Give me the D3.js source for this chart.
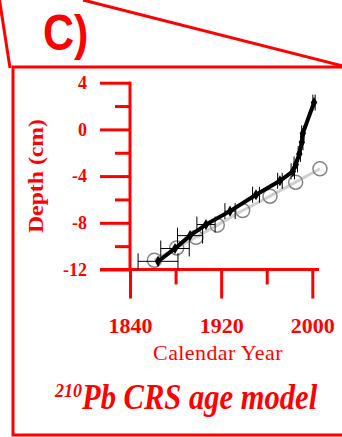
<!DOCTYPE html>
<html>
<head>
<meta charset="utf-8">
<script src="https://cdn.jsdelivr.net/npm/d3@7"></script>
<style>
  body { margin: 0; background: #fff; }
  svg { display: block; }
</style>
</head>
<body>
<div id="container"></div>
<script>
// CRS model (black) - calendar year, depth, year error
var crs_year = [2001.5, 1991.7, 1990.8, 1988.6, 1985.5, 1982.9, 1971.6, 1950.6, 1927.8, 1906.7, 1892.7, 1879.5, 1864.6];
var crs_depth = [2.3, -0.34, -1.1, -2.1, -3.0, -3.6, -4.4, -5.6, -7.0, -8.15, -9.1, -10.2, -11.3];
var crs_err = [1, 1, 1, 1, 1.5, 1.5, 2, 3, 4.5, 8, 11, 12.5, 17.5];

// grey open circles
var alt_year = [1861.4, 1881, 1897.9, 1916.6, 1938.9, 1962.9, 1985.4, 2006.7];
var alt_depth = [-11.2, -10.15, -9.24, -8.2, -6.95, -5.72, -4.52, -3.37];

var x_major = [1840, 1920, 2000];
var x_minor = [1880, 1960];
var y_major = [4, 0, -4, -8, -12];
var y_minor = [2, -2, -6, -10];

var width = 342, height = 437;
var red = "#ff0000";
var serif = "Liberation Serif, Times New Roman, serif";

var svg = d3.select("div#container")
  .append("svg")
  .attr("width", width)
  .attr("height", height);

var x = d3.scaleLinear().domain([1840, 2000]).range([130, 312.3]);
var y = d3.scaleLinear().domain([-12, 4]).range([269.5, 82.7]);

// frame and callout lines
svg.append("rect")
  .attr("x", 13).attr("y", 67).attr("width", 340).attr("height", 368)
  .style("fill", "none").style("stroke", red).style("stroke-width", 3);
svg.append("line").attr("x1", -0.5).attr("y1", 0).attr("x2", 10).attr("y2", 68)
  .style("stroke", red).style("stroke-width", 3);
svg.append("line").attr("x1", 83).attr("y1", 0).attr("x2", 343).attr("y2", 66)
  .style("stroke", red).style("stroke-width", 3);

svg.append("text").attr("transform", "translate(43,50) scale(1,1.17)")
  .style("font-family", "Liberation Sans, Arial, sans-serif")
  .style("font-weight", "bold").style("font-size", "43px").style("fill", red)
  .text("C)");

// y axis
var yAxisMajor = d3.axisLeft(y).tickValues(y_major).tickSize(30).tickSizeOuter(0)
  .tickFormat(d3.format("d")).tickPadding(13);
var yAxisMinor = d3.axisLeft(y).tickValues(y_minor).tickSize(15).tickFormat("");

var gy = svg.append("g").attr("transform", "translate(130,0)").call(yAxisMajor);
var gy2 = svg.append("g").attr("transform", "translate(130,0)").call(yAxisMinor);
[gy, gy2].forEach(function(g) {
  g.select(".domain").remove();
  g.selectAll("line").style("stroke", red).style("stroke-width", 3);
});
gy.selectAll("text")
  .style("font-family", serif)
  .style("font-weight", "bold").style("font-size", "18px").style("fill", red)
  .text(function(d) { return d < 0 ? "-" + Math.abs(d) : d; });

// x axis
var xAxisMajor = d3.axisBottom(x).tickValues(x_major).tickSize(29).tickSizeOuter(0)
  .tickFormat(d3.format("d")).tickPadding(19);
var xAxisMinor = d3.axisBottom(x).tickValues(x_minor).tickSize(15).tickFormat("");

var gx = svg.append("g").attr("transform", "translate(0," + y(-12) + ")").call(xAxisMajor);
var gx2 = svg.append("g").attr("transform", "translate(0," + y(-12) + ")").call(xAxisMinor);
[gx, gx2].forEach(function(g) {
  g.select(".domain").remove();
  g.selectAll("line").style("stroke", red).style("stroke-width", 3);
});
gx.selectAll("text")
  .style("font-family", serif)
  .style("font-weight", "bold").style("font-size", "22px").style("fill", red);

// axis lines
svg.append("line").attr("x1", 100).attr("x2", 319).attr("y1", y(-12)).attr("y2", y(-12))
  .style("stroke", red).style("stroke-width", 3);
svg.append("line").attr("x1", x(1840)).attr("x2", x(1840)).attr("y1", y(4) - 1).attr("y2", y(-12))
  .style("stroke", red).style("stroke-width", 3);

// axis titles
svg.append("text").attr("x", 218).attr("y", 360).attr("text-anchor", "middle")
  .style("font-family", serif).style("letter-spacing", "0.4px")
  .style("font-size", "22px").style("fill", red)
  .text("Calendar Year");

svg.append("text").attr("transform", "translate(43,176) rotate(-90) scale(1.08,1)")
  .attr("text-anchor", "middle")
  .style("font-family", serif)
  .style("font-weight", "bold").style("font-size", "22px").style("fill", red)
  .text("Depth (cm)");

// title
svg.append("text").attr("x", 55).attr("y", 397)
  .style("font-family", serif)
  .style("font-weight", "bold").style("font-style", "italic")
  .style("font-size", "18px").style("fill", red)
  .text("210");
svg.append("text").attr("transform", "translate(82,409) scale(1.054,1.2)")
  .style("font-family", serif)
  .style("font-weight", "bold").style("font-style", "italic")
  .style("font-size", "29px").style("fill", red)
  .text("Pb CRS age model");

// grey series
var alt = alt_year.map(function(d, i) { return [d, alt_depth[i]]; });
var line = d3.line().x(function(d) { return x(d[0]); }).y(function(d) { return y(d[1]); });

svg.append("path").datum(alt).attr("d", line)
  .style("fill", "none").style("stroke", "#cfcfcf").style("stroke-width", 3);
svg.selectAll("circle.alt").data(alt).enter().append("circle")
  .attr("class", "alt")
  .attr("cx", function(d) { return x(d[0]); })
  .attr("cy", function(d) { return y(d[1]); })
  .attr("r", 7)
  .style("fill", "none").style("stroke", "#858585").style("stroke-width", 1.5);

// black series with year error bars
var crs = crs_year.map(function(d, i) { return [d, crs_depth[i], crs_err[i]]; });

var eb = svg.selectAll("g.err").data(crs).enter().append("g").attr("class", "err");
eb.append("line")
  .attr("x1", function(d) { return x(d[0] - d[2]); })
  .attr("x2", function(d) { return x(d[0] + d[2]); })
  .attr("y1", function(d) { return y(d[1]); })
  .attr("y2", function(d) { return y(d[1]); });
eb.append("line")
  .attr("x1", function(d) { return x(d[0] - d[2]); })
  .attr("x2", function(d) { return x(d[0] - d[2]); })
  .attr("y1", function(d) { return y(d[1]) - 8; })
  .attr("y2", function(d) { return y(d[1]) + 8; });
eb.append("line")
  .attr("x1", function(d) { return x(d[0] + d[2]); })
  .attr("x2", function(d) { return x(d[0] + d[2]); })
  .attr("y1", function(d) { return y(d[1]) - 8; })
  .attr("y2", function(d) { return y(d[1]) + 8; });
eb.selectAll("line").style("stroke", "#000").style("stroke-width", 1);

svg.append("path").datum(crs).attr("d", line)
  .style("fill", "none").style("stroke", "#000").style("stroke-width", 4)
  .style("stroke-linejoin", "round");
svg.selectAll("path.mk").data(crs).enter().append("path")
  .attr("class", "mk")
  .attr("transform", function(d) { return "translate(" + x(d[0]) + "," + y(d[1]) + ")"; })
  .attr("d", d3.symbol().type(d3.symbolDiamond).size(36))
  .style("fill", "#000");
</script>
</body>
</html>
